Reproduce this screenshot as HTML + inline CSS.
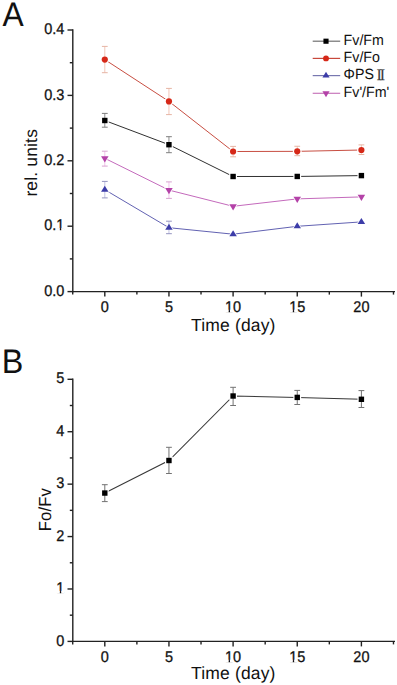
<!DOCTYPE html>
<html><head><meta charset="utf-8"><title>Chlorophyll fluorescence parameters</title><style>
html,body{margin:0;padding:0;background:#fff;}
svg{display:block;}
text{font-family:"Liberation Sans",sans-serif;fill:#111;text-rendering:geometricPrecision;}
.tk{stroke:#111;stroke-width:0.3px;}
</style></head><body>
<svg width="397" height="685" viewBox="0 0 397 685">
<rect width="397" height="685" fill="#fff"/>
<line x1="72.80" y1="30.00" x2="72.80" y2="291.60" stroke="#222" stroke-width="1.4" stroke-linecap="square"/>
<line x1="72.80" y1="291.60" x2="394.30" y2="291.60" stroke="#222" stroke-width="1.4" stroke-linecap="square"/>
<line x1="67.50" y1="291.60" x2="72.80" y2="291.60" stroke="#222" stroke-width="1.4" />
<line x1="67.50" y1="226.20" x2="72.80" y2="226.20" stroke="#222" stroke-width="1.4" />
<line x1="67.50" y1="160.80" x2="72.80" y2="160.80" stroke="#222" stroke-width="1.4" />
<line x1="67.50" y1="95.40" x2="72.80" y2="95.40" stroke="#222" stroke-width="1.4" />
<line x1="67.50" y1="30.00" x2="72.80" y2="30.00" stroke="#222" stroke-width="1.4" />
<line x1="69.80" y1="258.90" x2="72.80" y2="258.90" stroke="#222" stroke-width="1.4" />
<line x1="69.80" y1="193.50" x2="72.80" y2="193.50" stroke="#222" stroke-width="1.4" />
<line x1="69.80" y1="128.10" x2="72.80" y2="128.10" stroke="#222" stroke-width="1.4" />
<line x1="69.80" y1="62.70" x2="72.80" y2="62.70" stroke="#222" stroke-width="1.4" />
<line x1="104.80" y1="291.60" x2="104.80" y2="296.60" stroke="#222" stroke-width="1.4" />
<line x1="168.95" y1="291.60" x2="168.95" y2="296.60" stroke="#222" stroke-width="1.4" />
<line x1="233.10" y1="291.60" x2="233.10" y2="296.60" stroke="#222" stroke-width="1.4" />
<line x1="297.25" y1="291.60" x2="297.25" y2="296.60" stroke="#222" stroke-width="1.4" />
<line x1="361.40" y1="291.60" x2="361.40" y2="296.60" stroke="#222" stroke-width="1.4" />
<line x1="72.72" y1="291.60" x2="72.72" y2="294.60" stroke="#222" stroke-width="1.4" />
<line x1="136.88" y1="291.60" x2="136.88" y2="294.60" stroke="#222" stroke-width="1.4" />
<line x1="201.02" y1="291.60" x2="201.02" y2="294.60" stroke="#222" stroke-width="1.4" />
<line x1="265.18" y1="291.60" x2="265.18" y2="294.60" stroke="#222" stroke-width="1.4" />
<line x1="329.32" y1="291.60" x2="329.32" y2="294.60" stroke="#222" stroke-width="1.4" />
<line x1="393.48" y1="291.60" x2="393.48" y2="294.60" stroke="#222" stroke-width="1.4" />
<text transform="translate(64.30,295.75) scale(0.935,1)" font-size="15.5" text-anchor="end" class="tk">0.0</text>
<text transform="translate(64.30,230.35) scale(0.935,1)" font-size="15.5" text-anchor="end" class="tk">0.1</text>
<g transform="translate(0.00,230.35)"><rect x="56.10" y="-2.25" width="3.74" height="2.85" fill="#fff"/><rect x="61.21" y="-2.25" width="3.41" height="2.85" fill="#fff"/></g>
<text transform="translate(64.30,164.95) scale(0.935,1)" font-size="15.5" text-anchor="end" class="tk">0.2</text>
<text transform="translate(64.30,99.55) scale(0.935,1)" font-size="15.5" text-anchor="end" class="tk">0.3</text>
<text transform="translate(64.30,34.15) scale(0.935,1)" font-size="15.5" text-anchor="end" class="tk">0.4</text>
<text transform="translate(104.80,312.00) scale(0.935,1)" font-size="15.5" text-anchor="middle" class="tk">0</text>
<text transform="translate(168.95,312.00) scale(0.935,1)" font-size="15.5" text-anchor="middle" class="tk">5</text>
<text transform="translate(233.10,312.00) scale(0.935,1)" font-size="15.5" text-anchor="middle" class="tk">10</text>
<g transform="translate(0.00,312.00)"><rect x="224.90" y="-2.25" width="3.74" height="2.85" fill="#fff"/><rect x="230.01" y="-2.25" width="3.41" height="2.85" fill="#fff"/></g>
<text transform="translate(297.25,312.00) scale(0.935,1)" font-size="15.5" text-anchor="middle" class="tk">15</text>
<g transform="translate(0.00,312.00)"><rect x="289.05" y="-2.25" width="3.74" height="2.85" fill="#fff"/><rect x="294.16" y="-2.25" width="3.41" height="2.85" fill="#fff"/></g>
<text transform="translate(361.40,312.00) scale(0.935,1)" font-size="15.5" text-anchor="middle" class="tk">20</text>
<text transform="translate(233.30,330.80)" font-size="17.5" text-anchor="middle" style="letter-spacing:0.15px" >Time (day)</text>
<text transform="translate(37.00,162.80) rotate(-90)" font-size="17.5" text-anchor="middle" style="letter-spacing:0.15px" >rel. units</text>
<line x1="72.80" y1="379.30" x2="72.80" y2="641.40" stroke="#222" stroke-width="1.4" stroke-linecap="square"/>
<line x1="72.80" y1="641.40" x2="394.30" y2="641.40" stroke="#222" stroke-width="1.4" stroke-linecap="square"/>
<line x1="67.50" y1="641.40" x2="72.80" y2="641.40" stroke="#222" stroke-width="1.4" />
<line x1="67.50" y1="588.98" x2="72.80" y2="588.98" stroke="#222" stroke-width="1.4" />
<line x1="67.50" y1="536.56" x2="72.80" y2="536.56" stroke="#222" stroke-width="1.4" />
<line x1="67.50" y1="484.14" x2="72.80" y2="484.14" stroke="#222" stroke-width="1.4" />
<line x1="67.50" y1="431.72" x2="72.80" y2="431.72" stroke="#222" stroke-width="1.4" />
<line x1="67.50" y1="379.30" x2="72.80" y2="379.30" stroke="#222" stroke-width="1.4" />
<line x1="69.80" y1="615.19" x2="72.80" y2="615.19" stroke="#222" stroke-width="1.4" />
<line x1="69.80" y1="562.77" x2="72.80" y2="562.77" stroke="#222" stroke-width="1.4" />
<line x1="69.80" y1="510.35" x2="72.80" y2="510.35" stroke="#222" stroke-width="1.4" />
<line x1="69.80" y1="457.93" x2="72.80" y2="457.93" stroke="#222" stroke-width="1.4" />
<line x1="69.80" y1="405.51" x2="72.80" y2="405.51" stroke="#222" stroke-width="1.4" />
<line x1="104.80" y1="641.40" x2="104.80" y2="646.40" stroke="#222" stroke-width="1.4" />
<line x1="168.95" y1="641.40" x2="168.95" y2="646.40" stroke="#222" stroke-width="1.4" />
<line x1="233.10" y1="641.40" x2="233.10" y2="646.40" stroke="#222" stroke-width="1.4" />
<line x1="297.25" y1="641.40" x2="297.25" y2="646.40" stroke="#222" stroke-width="1.4" />
<line x1="361.40" y1="641.40" x2="361.40" y2="646.40" stroke="#222" stroke-width="1.4" />
<line x1="72.72" y1="641.40" x2="72.72" y2="644.40" stroke="#222" stroke-width="1.4" />
<line x1="136.88" y1="641.40" x2="136.88" y2="644.40" stroke="#222" stroke-width="1.4" />
<line x1="201.02" y1="641.40" x2="201.02" y2="644.40" stroke="#222" stroke-width="1.4" />
<line x1="265.18" y1="641.40" x2="265.18" y2="644.40" stroke="#222" stroke-width="1.4" />
<line x1="329.32" y1="641.40" x2="329.32" y2="644.40" stroke="#222" stroke-width="1.4" />
<line x1="393.48" y1="641.40" x2="393.48" y2="644.40" stroke="#222" stroke-width="1.4" />
<text transform="translate(64.30,645.55) scale(0.935,1)" font-size="15.5" text-anchor="end" class="tk">0</text>
<text transform="translate(64.30,593.13) scale(0.935,1)" font-size="15.5" text-anchor="end" class="tk">1</text>
<g transform="translate(0.00,593.13)"><rect x="56.10" y="-2.25" width="3.74" height="2.85" fill="#fff"/><rect x="61.21" y="-2.25" width="3.41" height="2.85" fill="#fff"/></g>
<text transform="translate(64.30,540.71) scale(0.935,1)" font-size="15.5" text-anchor="end" class="tk">2</text>
<text transform="translate(64.30,488.29) scale(0.935,1)" font-size="15.5" text-anchor="end" class="tk">3</text>
<text transform="translate(64.30,435.87) scale(0.935,1)" font-size="15.5" text-anchor="end" class="tk">4</text>
<text transform="translate(64.30,383.45) scale(0.935,1)" font-size="15.5" text-anchor="end" class="tk">5</text>
<text transform="translate(104.80,662.00) scale(0.935,1)" font-size="15.5" text-anchor="middle" class="tk">0</text>
<text transform="translate(168.95,662.00) scale(0.935,1)" font-size="15.5" text-anchor="middle" class="tk">5</text>
<text transform="translate(233.10,662.00) scale(0.935,1)" font-size="15.5" text-anchor="middle" class="tk">10</text>
<g transform="translate(0.00,662.00)"><rect x="224.90" y="-2.25" width="3.74" height="2.85" fill="#fff"/><rect x="230.01" y="-2.25" width="3.41" height="2.85" fill="#fff"/></g>
<text transform="translate(297.25,662.00) scale(0.935,1)" font-size="15.5" text-anchor="middle" class="tk">15</text>
<g transform="translate(0.00,662.00)"><rect x="289.05" y="-2.25" width="3.74" height="2.85" fill="#fff"/><rect x="294.16" y="-2.25" width="3.41" height="2.85" fill="#fff"/></g>
<text transform="translate(361.40,662.00) scale(0.935,1)" font-size="15.5" text-anchor="middle" class="tk">20</text>
<text transform="translate(233.30,678.90)" font-size="17.5" text-anchor="middle" style="letter-spacing:0.15px" >Time (day)</text>
<text transform="translate(50.90,509.60) rotate(-90) scale(0.955,1)" font-size="17.5" text-anchor="middle" style="letter-spacing:0.15px" >Fo/Fv</text>
<text transform="translate(2.40,25.70) scale(0.935,1)" font-size="34" text-anchor="start" >A</text>
<text transform="translate(1.70,372.50) scale(0.950,1)" font-size="34" text-anchor="start" >B</text>
<polyline points="104.80,120.50 168.95,144.70 233.10,176.50 297.25,176.45 361.40,175.60" fill="none" stroke="#303030" stroke-width="1.0"/>
<polyline points="104.80,59.60 168.95,101.40 233.10,151.50 297.25,151.35 361.40,150.00" fill="none" stroke="#c84e42" stroke-width="1.0"/>
<polyline points="104.80,189.70 168.95,227.70 233.10,234.20 297.25,226.30 361.40,221.90" fill="none" stroke="#6262b2" stroke-width="1.0"/>
<polyline points="104.80,158.30 168.95,190.10 233.10,206.30 297.25,198.90 361.40,196.90" fill="none" stroke="#c46abc" stroke-width="1.0"/>
<rect x="100.88" y="116.58" width="7.83" height="7.83" fill="#fff"/>
<rect x="165.03" y="140.78" width="7.83" height="7.83" fill="#fff"/>
<rect x="229.19" y="172.59" width="7.83" height="7.83" fill="#fff"/>
<rect x="293.33" y="172.53" width="7.83" height="7.83" fill="#fff"/>
<rect x="357.49" y="171.69" width="7.83" height="7.83" fill="#fff"/>
<circle cx="104.80" cy="59.60" r="4.34" fill="#fff"/>
<circle cx="168.95" cy="101.40" r="4.34" fill="#fff"/>
<circle cx="233.10" cy="151.50" r="4.34" fill="#fff"/>
<circle cx="297.25" cy="151.35" r="4.34" fill="#fff"/>
<circle cx="361.40" cy="150.00" r="4.34" fill="#fff"/>
<polygon points="99.74,192.40 109.86,192.40 104.80,184.30" fill="#fff"/>
<polygon points="163.89,230.40 174.01,230.40 168.95,222.30" fill="#fff"/>
<polygon points="228.04,236.90 238.16,236.90 233.10,228.80" fill="#fff"/>
<polygon points="292.19,229.00 302.31,229.00 297.25,220.90" fill="#fff"/>
<polygon points="356.34,224.60 366.46,224.60 361.40,216.50" fill="#fff"/>
<polygon points="99.74,155.51 109.86,155.51 104.80,163.88" fill="#fff"/>
<polygon points="163.89,187.31 174.01,187.31 168.95,195.68" fill="#fff"/>
<polygon points="228.04,203.51 238.16,203.51 233.10,211.88" fill="#fff"/>
<polygon points="292.19,196.11 302.31,196.11 297.25,204.48" fill="#fff"/>
<polygon points="356.34,194.11 366.46,194.11 361.40,202.48" fill="#fff"/>
<line x1="104.80" y1="113.40" x2="104.80" y2="127.20" stroke="#8e8e8e" stroke-width="1.0" />
<line x1="101.90" y1="113.40" x2="107.70" y2="113.40" stroke="#7e7e7e" stroke-width="1.0" />
<line x1="101.90" y1="127.20" x2="107.70" y2="127.20" stroke="#7e7e7e" stroke-width="1.0" />
<line x1="168.95" y1="136.70" x2="168.95" y2="152.70" stroke="#8e8e8e" stroke-width="1.0" />
<line x1="166.05" y1="136.70" x2="171.85" y2="136.70" stroke="#7e7e7e" stroke-width="1.0" />
<line x1="166.05" y1="152.70" x2="171.85" y2="152.70" stroke="#7e7e7e" stroke-width="1.0" />
<line x1="104.80" y1="46.40" x2="104.80" y2="72.70" stroke="#f2c6b8" stroke-width="1.0" />
<line x1="101.90" y1="46.40" x2="107.70" y2="46.40" stroke="#e6b4a4" stroke-width="1.0" />
<line x1="101.90" y1="72.70" x2="107.70" y2="72.70" stroke="#e6b4a4" stroke-width="1.0" />
<line x1="168.95" y1="88.40" x2="168.95" y2="114.60" stroke="#f2c6b8" stroke-width="1.0" />
<line x1="166.05" y1="88.40" x2="171.85" y2="88.40" stroke="#e6b4a4" stroke-width="1.0" />
<line x1="166.05" y1="114.60" x2="171.85" y2="114.60" stroke="#e6b4a4" stroke-width="1.0" />
<line x1="233.10" y1="146.40" x2="233.10" y2="156.80" stroke="#f2c6b8" stroke-width="1.0" />
<line x1="230.20" y1="146.40" x2="236.00" y2="146.40" stroke="#e6b4a4" stroke-width="1.0" />
<line x1="230.20" y1="156.80" x2="236.00" y2="156.80" stroke="#e6b4a4" stroke-width="1.0" />
<line x1="297.25" y1="146.25" x2="297.25" y2="155.70" stroke="#f2c6b8" stroke-width="1.0" />
<line x1="294.35" y1="146.25" x2="300.15" y2="146.25" stroke="#e6b4a4" stroke-width="1.0" />
<line x1="294.35" y1="155.70" x2="300.15" y2="155.70" stroke="#e6b4a4" stroke-width="1.0" />
<line x1="361.40" y1="144.90" x2="361.40" y2="154.50" stroke="#f2c6b8" stroke-width="1.0" />
<line x1="358.50" y1="144.90" x2="364.30" y2="144.90" stroke="#e6b4a4" stroke-width="1.0" />
<line x1="358.50" y1="154.50" x2="364.30" y2="154.50" stroke="#e6b4a4" stroke-width="1.0" />
<line x1="104.80" y1="181.40" x2="104.80" y2="197.90" stroke="#c4c4e4" stroke-width="1.0" />
<line x1="101.90" y1="181.40" x2="107.70" y2="181.40" stroke="#9494c0" stroke-width="1.0" />
<line x1="101.90" y1="197.90" x2="107.70" y2="197.90" stroke="#9494c0" stroke-width="1.0" />
<line x1="168.95" y1="221.20" x2="168.95" y2="233.70" stroke="#c4c4e4" stroke-width="1.0" />
<line x1="166.05" y1="221.20" x2="171.85" y2="221.20" stroke="#9494c0" stroke-width="1.0" />
<line x1="166.05" y1="233.70" x2="171.85" y2="233.70" stroke="#9494c0" stroke-width="1.0" />
<line x1="104.80" y1="151.20" x2="104.80" y2="166.10" stroke="#f2c2ec" stroke-width="1.0" />
<line x1="101.90" y1="151.20" x2="107.70" y2="151.20" stroke="#d8a4d0" stroke-width="1.0" />
<line x1="101.90" y1="166.10" x2="107.70" y2="166.10" stroke="#d8a4d0" stroke-width="1.0" />
<line x1="168.95" y1="181.90" x2="168.95" y2="198.40" stroke="#f2c2ec" stroke-width="1.0" />
<line x1="166.05" y1="181.90" x2="171.85" y2="181.90" stroke="#d8a4d0" stroke-width="1.0" />
<line x1="166.05" y1="198.40" x2="171.85" y2="198.40" stroke="#d8a4d0" stroke-width="1.0" />
<rect x="102.10" y="117.80" width="5.40" height="5.40" fill="#000"/>
<rect x="166.25" y="142.00" width="5.40" height="5.40" fill="#000"/>
<rect x="230.40" y="173.80" width="5.40" height="5.40" fill="#000"/>
<rect x="294.55" y="173.75" width="5.40" height="5.40" fill="#000"/>
<rect x="358.70" y="172.90" width="5.40" height="5.40" fill="#000"/>
<circle cx="104.80" cy="59.60" r="3.10" fill="#d62818"/>
<circle cx="168.95" cy="101.40" r="3.10" fill="#d62818"/>
<circle cx="233.10" cy="151.50" r="3.10" fill="#d62818"/>
<circle cx="297.25" cy="151.35" r="3.10" fill="#d62818"/>
<circle cx="361.40" cy="150.00" r="3.10" fill="#d62818"/>
<polygon points="101.05,191.70 108.55,191.70 104.80,185.70" fill="#3c3ca8"/>
<polygon points="165.20,229.70 172.70,229.70 168.95,223.70" fill="#3c3ca8"/>
<polygon points="229.35,236.20 236.85,236.20 233.10,230.20" fill="#3c3ca8"/>
<polygon points="293.50,228.30 301.00,228.30 297.25,222.30" fill="#3c3ca8"/>
<polygon points="357.65,223.90 365.15,223.90 361.40,217.90" fill="#3c3ca8"/>
<polygon points="101.05,156.23 108.55,156.23 104.80,162.43" fill="#b442a8"/>
<polygon points="165.20,188.03 172.70,188.03 168.95,194.23" fill="#b442a8"/>
<polygon points="229.35,204.23 236.85,204.23 233.10,210.43" fill="#b442a8"/>
<polygon points="293.50,196.83 301.00,196.83 297.25,203.03" fill="#b442a8"/>
<polygon points="357.65,194.83 365.15,194.83 361.40,201.03" fill="#b442a8"/>
<polyline points="104.80,493.05 168.95,460.50 233.10,396.00 297.25,397.40 361.40,399.30" fill="none" stroke="#383838" stroke-width="1.05"/>
<rect x="100.88" y="489.13" width="7.83" height="7.83" fill="#fff"/>
<rect x="165.03" y="456.58" width="7.83" height="7.83" fill="#fff"/>
<rect x="229.19" y="392.08" width="7.83" height="7.83" fill="#fff"/>
<rect x="293.33" y="393.48" width="7.83" height="7.83" fill="#fff"/>
<rect x="357.49" y="395.38" width="7.83" height="7.83" fill="#fff"/>
<line x1="104.80" y1="484.70" x2="104.80" y2="501.60" stroke="#727272" stroke-width="1.0" />
<line x1="101.90" y1="484.70" x2="107.70" y2="484.70" stroke="#727272" stroke-width="1.0" />
<line x1="101.90" y1="501.60" x2="107.70" y2="501.60" stroke="#727272" stroke-width="1.0" />
<line x1="168.95" y1="447.30" x2="168.95" y2="473.50" stroke="#727272" stroke-width="1.0" />
<line x1="166.05" y1="447.30" x2="171.85" y2="447.30" stroke="#727272" stroke-width="1.0" />
<line x1="166.05" y1="473.50" x2="171.85" y2="473.50" stroke="#727272" stroke-width="1.0" />
<line x1="233.10" y1="387.30" x2="233.10" y2="405.50" stroke="#727272" stroke-width="1.0" />
<line x1="230.20" y1="387.30" x2="236.00" y2="387.30" stroke="#727272" stroke-width="1.0" />
<line x1="230.20" y1="405.50" x2="236.00" y2="405.50" stroke="#727272" stroke-width="1.0" />
<line x1="297.25" y1="390.40" x2="297.25" y2="404.50" stroke="#727272" stroke-width="1.0" />
<line x1="294.35" y1="390.40" x2="300.15" y2="390.40" stroke="#727272" stroke-width="1.0" />
<line x1="294.35" y1="404.50" x2="300.15" y2="404.50" stroke="#727272" stroke-width="1.0" />
<line x1="361.40" y1="390.60" x2="361.40" y2="407.50" stroke="#727272" stroke-width="1.0" />
<line x1="358.50" y1="390.60" x2="364.30" y2="390.60" stroke="#727272" stroke-width="1.0" />
<line x1="358.50" y1="407.50" x2="364.30" y2="407.50" stroke="#727272" stroke-width="1.0" />
<rect x="102.10" y="490.35" width="5.40" height="5.40" fill="#000"/>
<rect x="166.25" y="457.80" width="5.40" height="5.40" fill="#000"/>
<rect x="230.40" y="393.30" width="5.40" height="5.40" fill="#000"/>
<rect x="294.55" y="394.70" width="5.40" height="5.40" fill="#000"/>
<rect x="358.70" y="396.60" width="5.40" height="5.40" fill="#000"/>
<line x1="312.70" y1="41.20" x2="340.20" y2="41.20" stroke="#707070" stroke-width="1.2" />
<rect x="323.44" y="38.64" width="5.13" height="5.13" fill="#000"/>
<text transform="translate(343.60,44.90) scale(0.955,1)" font-size="14.9" text-anchor="start" >Fv/Fm</text>
<line x1="312.70" y1="58.40" x2="340.20" y2="58.40" stroke="#c8483c" stroke-width="1.2" />
<circle cx="326.00" cy="58.40" r="2.94" fill="#d62818"/>
<text transform="translate(343.60,62.10) scale(0.955,1)" font-size="14.9" text-anchor="start" >Fv/Fo</text>
<line x1="312.70" y1="75.60" x2="340.20" y2="75.60" stroke="#7878b0" stroke-width="1.2" />
<polygon points="322.44,77.50 329.56,77.50 326.00,71.80" fill="#3c3ca8"/>
<text transform="translate(343.60,79.30) scale(0.955,1)" font-size="14.9" text-anchor="start" >&#934;PS</text>
<line x1="312.70" y1="93.30" x2="340.20" y2="93.30" stroke="#c878bc" stroke-width="1.2" />
<polygon points="322.44,91.34 329.56,91.34 326.00,97.23" fill="#b442a8"/>
<text transform="translate(343.60,97.00) scale(0.955,1)" font-size="14.9" text-anchor="start" >Fv'/Fm'</text>
<text transform="translate(376.70,80.40) scale(0.900,1)" font-size="16.2" text-anchor="start" style="font-family:&quot;Liberation Serif&quot;,serif;letter-spacing:-1.7px;fill:#3a3a3a;stroke:#3a3a3a;stroke-width:0.25px" >II</text>
</svg>
</body></html>
